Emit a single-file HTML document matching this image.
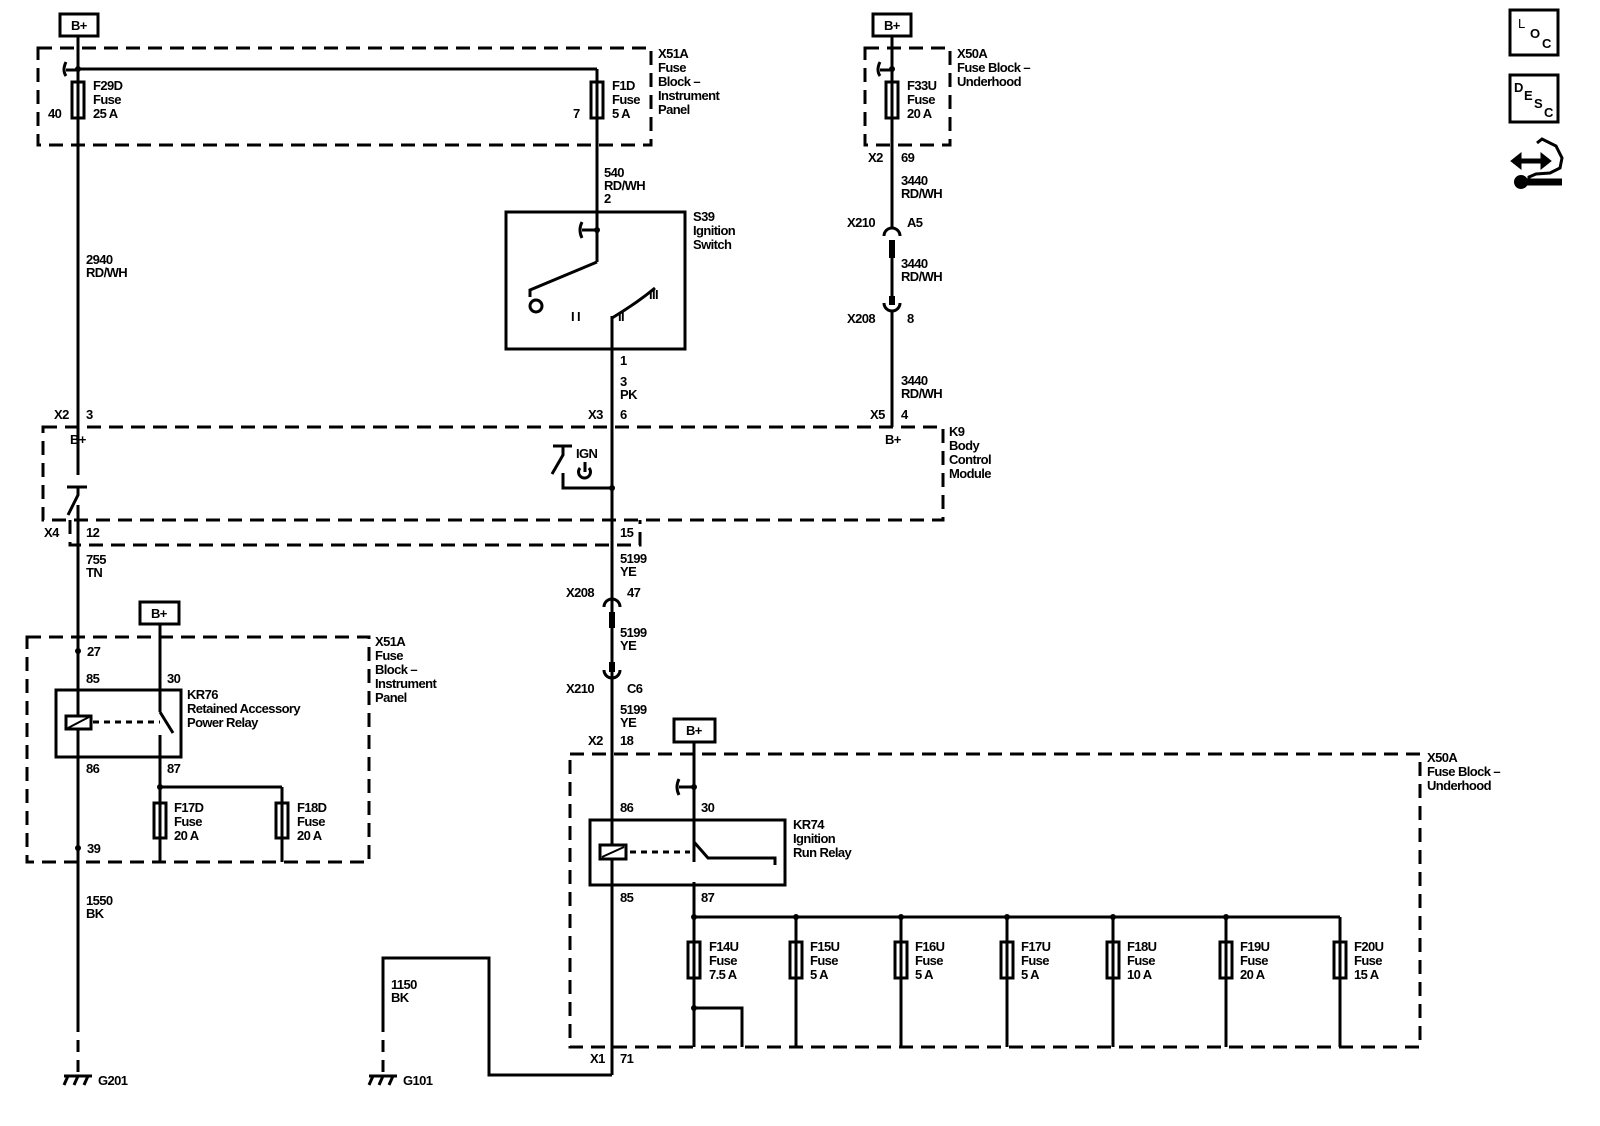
<!DOCTYPE html>
<html><head><meta charset="utf-8"><style>
html,body{margin:0;padding:0;background:#fff;overflow:hidden;width:1600px;height:1126px}
svg{display:block}
text{font-family:"Liberation Sans",sans-serif;font-size:13px;font-weight:bold;fill:#000;letter-spacing:-0.6px}
</style></head><body>
<svg width="1600" height="1126" viewBox="0 0 1600 1126" xmlns="http://www.w3.org/2000/svg">
<g fill="none" stroke="#000" stroke-width="3">
<rect x="60" y="14" width="38" height="22"/>
<rect x="873" y="14" width="38" height="22"/>
<rect x="140" y="602" width="39" height="22"/>
<rect x="674" y="719" width="41" height="23"/>
<g stroke-dasharray="14,8">
<rect x="38" y="48" width="613" height="97"/>
<rect x="865" y="48" width="85" height="97"/>
<rect x="43" y="427" width="900" height="93"/>
<polyline points="70,520 70,545 640,545 640,520"/>
<rect x="27" y="637" width="342" height="225"/>
<rect x="570" y="754" width="850" height="293"/>
</g>
<line x1="78" y1="36" x2="78" y2="475"/>
<line x1="78" y1="505" x2="78" y2="1020"/>
<line x1="78" y1="1020" x2="78" y2="1075" stroke-dasharray="12,8"/>
<line x1="78" y1="69" x2="597" y2="69"/>
<path d="M66 70 h12 M66 62 q-4 8 0 14"/>
<rect x="72" y="82" width="12" height="36" fill="#fff"/>
<line x1="78" y1="82" x2="78" y2="118"/>
<line x1="597" y1="69" x2="597" y2="262"/>
<rect x="591" y="82" width="12" height="36" fill="#fff"/>
<line x1="597" y1="82" x2="597" y2="118"/>
<rect x="506" y="212" width="179" height="137"/>
<path d="M597 230 h-15 M582 222 q-4 8 0 16"/>
<polyline points="597,262 530,290 530,297"/>
<circle cx="536" cy="306" r="6"/>
<path d="M612 318 q25 -15 43 -30"/>
<line x1="612" y1="316" x2="612" y2="1075"/>
<line x1="67" y1="487" x2="87" y2="487" />
<polyline points="78,487 78,495 68,515"/>
<line x1="553" y1="446" x2="572" y2="446"/>
<polyline points="563,446 563,455 552,474"/>
<polyline points="563,473 563,488 612,488"/>
<path d="M580 468 a6 6 0 1 0 9 0"/><line x1="585" y1="462" x2="585" y2="472"/>
<line x1="892" y1="36" x2="892" y2="228"/>
<path d="M880 70 h12 M880 62 q-4 8 0 14"/>
<rect x="886" y="82" width="12" height="36" fill="#fff"/>
<line x1="892" y1="82" x2="892" y2="118"/>
<path d="M884 236 a8 8 0 0 1 16 0"/>
<line x1="892" y1="240" x2="892" y2="300"/>
<line x1="892" y1="240" x2="892" y2="258" stroke-width="6"/>
<line x1="892" y1="296" x2="892" y2="305" stroke-width="6"/>
<path d="M884 303 a8 8 0 0 0 16 0"/>
<line x1="892" y1="311" x2="892" y2="427"/>
<path d="M604 607 a8 8 0 0 1 16 0"/>
<line x1="612" y1="612" x2="612" y2="628" stroke-width="6"/>
<line x1="612" y1="662" x2="612" y2="672" stroke-width="6"/>
<path d="M604 670 a8 8 0 0 0 16 0"/>
<rect x="56" y="690" width="125" height="67"/>
<rect x="66" y="716" width="25" height="13" fill="#fff"/>
<line x1="68" y1="728" x2="89" y2="717" stroke-width="2"/>
<line x1="93" y1="722" x2="160" y2="722" stroke-dasharray="6,5"/>
<line x1="160" y1="624" x2="160" y2="712"/>
<line x1="160" y1="712" x2="173" y2="733"/>
<line x1="160" y1="735" x2="160" y2="862"/>
<line x1="160" y1="787" x2="282" y2="787"/>
<line x1="282" y1="787" x2="282" y2="862"/>
<rect x="154" y="803" width="12" height="35" fill="#fff"/>
<rect x="276" y="803" width="12" height="35" fill="#fff"/>
<line x1="160" y1="803" x2="160" y2="838"/><line x1="282" y1="803" x2="282" y2="838"/>
<rect x="590" y="820" width="195" height="65"/>
<rect x="600" y="845" width="26" height="14" fill="#fff"/>
<line x1="602" y1="857" x2="624" y2="847" stroke-width="2"/>
<line x1="630" y1="852" x2="690" y2="852" stroke-dasharray="6,5"/>
<line x1="694" y1="742" x2="694" y2="862"/>
<path d="M694 787 h-15 M679 779 q-4 8 0 16"/>
<polyline points="694,842 708,858 775,858 775,865" transform="translate(0 0)"/>
<line x1="694" y1="882" x2="694" y2="1047"/>
<line x1="694" y1="917" x2="1340" y2="917"/>
<polyline points="694,1008 742,1008 742,1047"/>
</g>
<g stroke="#000" stroke-width="3" fill="#fff">
<line x1="796" y1="917" x2="796" y2="1047"/><rect x="790" y="942" width="12" height="36"/>
<line x1="901" y1="917" x2="901" y2="1047"/><rect x="895" y="942" width="12" height="36"/>
<line x1="1007" y1="917" x2="1007" y2="1047"/><rect x="1001" y="942" width="12" height="36"/>
<line x1="1113" y1="917" x2="1113" y2="1047"/><rect x="1107" y="942" width="12" height="36"/>
<line x1="1226" y1="917" x2="1226" y2="1047"/><rect x="1220" y="942" width="12" height="36"/>
<line x1="1340" y1="917" x2="1340" y2="1047"/><rect x="1334" y="942" width="12" height="36"/>
<rect x="688" y="942" width="12" height="36"/>
</g>
<g stroke="#000" stroke-width="3">
<line x1="796" y1="942" x2="796" y2="978"/><line x1="901" y1="942" x2="901" y2="978"/><line x1="1007" y1="942" x2="1007" y2="978"/>
<line x1="1113" y1="942" x2="1113" y2="978"/><line x1="1226" y1="942" x2="1226" y2="978"/><line x1="1340" y1="942" x2="1340" y2="978"/><line x1="694" y1="942" x2="694" y2="978"/>
</g>
<g fill="#000">
<circle cx="78" cy="69" r="3"/><circle cx="597" cy="230" r="3"/><circle cx="612" cy="488" r="3"/>
<circle cx="78" cy="651" r="3"/><circle cx="78" cy="848" r="3"/><circle cx="160" cy="787" r="3"/>
<circle cx="694" cy="787" r="3"/><circle cx="694" cy="917" r="3"/><circle cx="796" cy="917" r="3"/><circle cx="901" cy="917" r="3"/>
<circle cx="1007" cy="917" r="3"/><circle cx="1113" cy="917" r="3"/><circle cx="1226" cy="917" r="3"/><circle cx="694" cy="1008" r="3"/>
<circle cx="892" cy="69" r="3"/>
</g>
<g fill="none" stroke="#000" stroke-width="3">
<polyline points="383,1020 383,958 489,958 489,1075 612,1075"/>
<line x1="383" y1="1020" x2="383" y2="1075" stroke-dasharray="12,8"/>
<line x1="64" y1="1076" x2="92" y2="1076"/>
<path d="M68 1076 l-4 9 M78 1076 l-4 9 M88 1076 l-4 9"/>
<line x1="369" y1="1076" x2="397" y2="1076"/>
<path d="M373 1076 l-4 9 M383 1076 l-4 9 M393 1076 l-4 9"/>
<rect x="1510" y="10" width="48" height="45"/>
<rect x="1510" y="75" width="48" height="47"/>
<path d="M1513 161 h36" stroke-width="5"/>
<path d="M1511 161 l10 -8 v16 z M1551 161 l-10 -8 v16 z" fill="#000" stroke-width="1"/>
<path d="M1537 143 l5 -4 l14 7 l6 12 l-2 10 l-10 5 l-14 1 l-7 3 v6" stroke-width="3"/>
<path d="M1522 182 h40" stroke-width="7"/>
</g>
<circle cx="1521" cy="182" r="7" fill="#000"/>
<g>
<text x="71" y="30">B+</text><text x="884" y="30">B+</text><text x="151" y="618">B+</text><text x="686" y="735">B+</text>
<text x="93" y="90">F29D</text><text x="93" y="104">Fuse</text><text x="93" y="118">25 A</text><text x="48" y="118">40</text>
<text x="612" y="90">F1D</text><text x="612" y="104">Fuse</text><text x="612" y="118">5 A</text><text x="573" y="118">7</text>
<text x="658" y="58">X51A</text><text x="658" y="72">Fuse</text><text x="658" y="86">Block –</text><text x="658" y="100">Instrument</text><text x="658" y="114">Panel</text>
<text x="907" y="90">F33U</text><text x="907" y="104">Fuse</text><text x="907" y="118">20 A</text>
<text x="957" y="58">X50A</text><text x="957" y="72">Fuse Block –</text><text x="957" y="86">Underhood</text>
<text x="868" y="162">X2</text><text x="901" y="162">69</text>
<text x="901" y="185">3440</text><text x="901" y="198">RD/WH</text>
<text x="847" y="227">X210</text><text x="907" y="227">A5</text>
<text x="901" y="268">3440</text><text x="901" y="281">RD/WH</text>
<text x="847" y="323">X208</text><text x="907" y="323">8</text>
<text x="901" y="385">3440</text><text x="901" y="398">RD/WH</text>
<text x="870" y="419">X5</text><text x="901" y="419">4</text><text x="885" y="444">B+</text>
<text x="949" y="436">K9</text><text x="949" y="450">Body</text><text x="949" y="464">Control</text><text x="949" y="478">Module</text>
<text x="604" y="177">540</text><text x="604" y="190">RD/WH</text><text x="604" y="203">2</text>
<text x="693" y="221">S39</text><text x="693" y="235">Ignition</text><text x="693" y="249">Switch</text>
<text x="571" y="321">I I</text><text x="618" y="321">II</text><text x="649" y="299">III</text>
<text x="620" y="365">1</text><text x="620" y="386">3</text><text x="620" y="399">PK</text>
<text x="588" y="419">X3</text><text x="620" y="419">6</text>
<text x="576" y="458">IGN</text>
<text x="86" y="264">2940</text><text x="86" y="277">RD/WH</text>
<text x="54" y="419">X2</text><text x="86" y="419">3</text><text x="70" y="444">B+</text>
<text x="44" y="537">X4</text><text x="86" y="537">12</text><text x="620" y="537">15</text>
<text x="86" y="564">755</text><text x="86" y="577">TN</text>
<text x="620" y="563">5199</text><text x="620" y="576">YE</text>
<text x="566" y="597">X208</text><text x="627" y="597">47</text>
<text x="620" y="637">5199</text><text x="620" y="650">YE</text>
<text x="566" y="693">X210</text><text x="627" y="693">C6</text>
<text x="620" y="714">5199</text><text x="620" y="727">YE</text>
<text x="588" y="745">X2</text><text x="620" y="745">18</text>
<text x="375" y="646">X51A</text><text x="375" y="660">Fuse</text><text x="375" y="674">Block –</text><text x="375" y="688">Instrument</text><text x="375" y="702">Panel</text>
<text x="87" y="656">27</text><text x="86" y="683">85</text><text x="167" y="683">30</text>
<text x="187" y="699">KR76</text><text x="187" y="713">Retained Accessory</text><text x="187" y="727">Power Relay</text>
<text x="86" y="773">86</text><text x="167" y="773">87</text>
<text x="174" y="812">F17D</text><text x="174" y="826">Fuse</text><text x="174" y="840">20 A</text>
<text x="297" y="812">F18D</text><text x="297" y="826">Fuse</text><text x="297" y="840">20 A</text>
<text x="87" y="853">39</text>
<text x="86" y="905">1550</text><text x="86" y="918">BK</text>
<text x="391" y="989">1150</text><text x="391" y="1002">BK</text>
<text x="98" y="1085">G201</text><text x="403" y="1085">G101</text>
<text x="590" y="1063">X1</text><text x="620" y="1063">71</text>
<text x="1427" y="762">X50A</text><text x="1427" y="776">Fuse Block –</text><text x="1427" y="790">Underhood</text>
<text x="620" y="812">86</text><text x="701" y="812">30</text>
<text x="793" y="829">KR74</text><text x="793" y="843">Ignition</text><text x="793" y="857">Run Relay</text>
<text x="620" y="902">85</text><text x="701" y="902">87</text>
<text x="709" y="951">F14U</text><text x="709" y="965">Fuse</text><text x="709" y="979">7.5 A</text>
<text x="810" y="951">F15U</text><text x="810" y="965">Fuse</text><text x="810" y="979">5 A</text>
<text x="915" y="951">F16U</text><text x="915" y="965">Fuse</text><text x="915" y="979">5 A</text>
<text x="1021" y="951">F17U</text><text x="1021" y="965">Fuse</text><text x="1021" y="979">5 A</text>
<text x="1127" y="951">F18U</text><text x="1127" y="965">Fuse</text><text x="1127" y="979">10 A</text>
<text x="1240" y="951">F19U</text><text x="1240" y="965">Fuse</text><text x="1240" y="979">20 A</text>
<text x="1354" y="951">F20U</text><text x="1354" y="965">Fuse</text><text x="1354" y="979">15 A</text>
<text x="1518" y="28" style="font-weight:normal">L</text><text x="1530" y="38">O</text><text x="1542" y="48">C</text>
<text x="1514" y="92">D</text><text x="1524" y="100">E</text><text x="1534" y="108">S</text><text x="1544" y="117">C</text>
</g>
</svg>
</body></html>
